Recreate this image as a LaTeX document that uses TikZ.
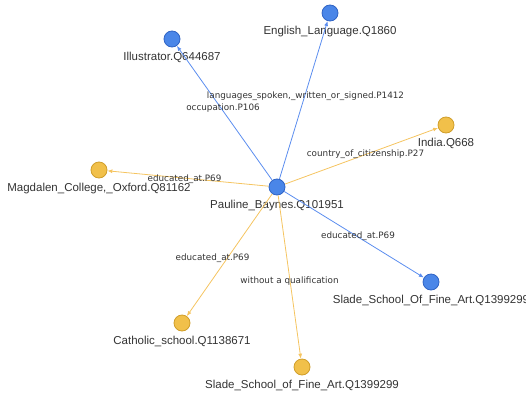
\documentclass[tikz,border=0pt]{standalone}
\usepackage{fontspec}
\setmainfont{Liberation Sans}
\newfontfamily\edgefont{DejaVu Sans}
\usetikzlibrary{arrows.meta}
\definecolor{entblue}{HTML}{4A86E8}
\definecolor{entblueline}{HTML}{2F63C4}
\definecolor{entyellow}{HTML}{F1C04A}
\definecolor{entyellowline}{HTML}{D09E2A}
\definecolor{relblue}{HTML}{5B8DEF}
\definecolor{relyellow}{HTML}{F5C460}
\definecolor{txt}{HTML}{333333}

\begin{document}
\begin{tikzpicture}[x=1pt, y=-1pt,
	entity/.style = {circle, line width=0.8pt, minimum size=16pt, inner sep=0pt,
		label={[name label]below:{#1}}},
	name label/.style = {text=txt, font=\fontsize{11.5}{13}\selectfont, label distance=1.5pt},
	blue entity/.style = {entity={#1}, fill=entblue, draw=entblueline},
	yellow entity/.style = {entity={#1}, fill=entyellow, draw=entyellowline},
	rel/.style = {line width=0.8pt, -{Latex[length=5pt, width=4pt]}},
	blue rel/.style = {rel, draw=relblue},
	yellow rel/.style = {rel, draw=relyellow},
	rel label/.style = {text=txt, font=\edgefont\fontsize{8.8}{10}\selectfont, inner sep=1pt}
]
	\useasboundingbox (0,0) rectangle (526,396);
	\clip (0,0) rectangle (526,396);

	\node[blue entity={Pauline\_Baynes.Q101951}]         (pauline)  at (277,187) {};
	\node[blue entity={Illustrator.Q644687}]             (illus)    at (172, 39) {};
	\node[blue entity={English\_Language.Q1860}]         (english)  at (330, 13) {};
	\node[yellow entity={India.Q668}]                    (india)    at (446,125) {};
	\node[yellow entity={Magdalen\_College,\_Oxford.Q81162}] (magdalen) at ( 99,170) {};
	\node[blue entity={Slade\_School\_Of\_Fine\_Art.Q1399299}] (sladeA) at (431,282) {};
	\node[yellow entity={Catholic\_school.Q1138671}]     (catholic) at (182,323) {};
	\node[yellow entity={Slade\_School\_of\_Fine\_Art.Q1399299}] (sladeB) at (302,367) {};

	\draw[blue rel]   (pauline) -- node[rel label, xshift=-1.5pt, yshift=5pt] {occupation.P106} (illus);
	\draw[blue rel]   (pauline) -- node[rel label, xshift=2pt, yshift=4pt] {languages\_spoken,\_written\_or\_signed.P1412} (english);
	\draw[yellow rel] (pauline) -- node[rel label, xshift=4pt, yshift=2pt] {country\_of\_citizenship.P27} (india);
	\draw[yellow rel] (pauline) -- node[rel label, xshift=-3.5pt, yshift=-0.5pt] {educated\_at.P69} (magdalen);
	\draw[blue rel]   (pauline) -- node[rel label, xshift=4pt, yshift=-1.5pt] {educated\_at.P69} (sladeA);
	\draw[yellow rel] (pauline) -- node[rel label, xshift=-17pt, yshift=-3pt] {educated\_at.P69} (catholic);
	\draw[yellow rel] (pauline) -- node[rel label, yshift=-4pt] {without a qualification} (sladeB);
\end{tikzpicture}
\end{document}
